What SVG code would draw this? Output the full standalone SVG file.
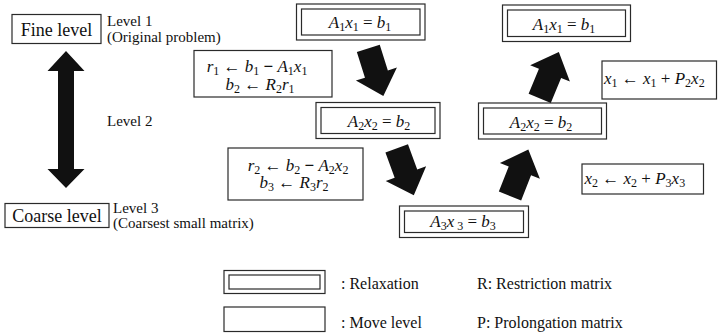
<svg xmlns="http://www.w3.org/2000/svg" xmlns:xlink="http://www.w3.org/1999/xlink" width="718" height="336" viewBox="0 0 718 336">
<style>
  .bx{fill:#fff;stroke:#2a2a2a;stroke-width:1.2}
  .t{font-family:"Liberation Serif","Times New Roman",serif;fill:#111}
  .lab{font-size:18px}
  .lv{font-size:15px}
  .lg{font-size:16px}
  .m{font-family:"Liberation Serif","Times New Roman",serif;font-size:17px;fill:#111}
  .i{font-style:italic}
  .s{font-size:12px}
  .ar{fill:#111}
</style>
<defs>
  <path id="fat" d="M0,-12 H27 V-21.5 L50,0 L27,21.5 V12 H0 Z"/>
</defs>
<rect width="718" height="336" fill="#fff"/>

<g id="fine-level">
  <rect class="bx" x="12" y="14.5" width="89" height="29"/>
  <text class="t lab" x="56.5" y="35.5" text-anchor="middle">Fine level</text>
  <text class="t lv" x="107" y="26">Level 1</text>
  <text class="t lv" x="107" y="42">(Original problem)</text>
</g>
<g id="level2-label">
  <text class="t lv" x="107" y="126">Level 2</text>
</g>
<g id="coarse-level">
  <rect class="bx" x="5" y="203.5" width="104" height="24"/>
  <text class="t lab" x="57" y="222" text-anchor="middle">Coarse level</text>
  <text class="t lv" x="113" y="213">Level 3</text>
  <text class="t lv" x="113" y="228">(Coarsest small matrix)</text>
</g>

<g id="relax-A1-left">
  <rect class="bx" x="296.5" y="4" width="128.5" height="36"/>
  <rect class="bx" x="301.5" y="9" width="118.5" height="26"/>
  <text class="m" x="360" y="28" text-anchor="middle"><tspan class="i">A</tspan><tspan class="s" dy="3">1</tspan><tspan class="i" dy="-3">x</tspan><tspan class="s" dy="3">1</tspan><tspan dy="-3">&#160;=&#160;</tspan><tspan class="i">b</tspan><tspan class="s" dy="3">1</tspan></text>
</g>
<g id="restrict-1">
  <rect class="bx" x="194" y="50.5" width="138" height="46.5"/>
  <text class="m" x="257" y="72" text-anchor="middle"><tspan class="i">r</tspan><tspan class="s" dy="3">1</tspan><tspan dy="-3">&#160;←&#160;</tspan><tspan class="i">b</tspan><tspan class="s" dy="3">1</tspan><tspan dy="-3" font-weight="bold">&#160;−&#160;</tspan><tspan class="i">A</tspan><tspan class="s" dy="3">1</tspan><tspan class="i" dy="-3">x</tspan><tspan class="s" dy="3">1</tspan></text>
  <text class="m" x="260" y="90" text-anchor="middle"><tspan class="i">b</tspan><tspan class="s" dy="3">2</tspan><tspan dy="-3">&#160;←&#160;</tspan><tspan class="i">R</tspan><tspan class="s" dy="3">2</tspan><tspan class="i" dy="-3">r</tspan><tspan class="s" dy="3">1</tspan></text>
</g>
<g id="relax-A2-left">
  <rect class="bx" x="316" y="102.5" width="124" height="36"/>
  <rect class="bx" x="321" y="107.5" width="114" height="26"/>
  <text class="m" x="379" y="127" text-anchor="middle"><tspan class="i">A</tspan><tspan class="s" dy="3">2</tspan><tspan class="i" dy="-3">x</tspan><tspan class="s" dy="3">2</tspan><tspan dy="-3">&#160;=&#160;</tspan><tspan class="i">b</tspan><tspan class="s" dy="3">2</tspan></text>
</g>
<g id="restrict-2">
  <rect class="bx" x="228" y="148" width="135" height="52"/>
  <text class="m" x="298" y="171" text-anchor="middle"><tspan class="i">r</tspan><tspan class="s" dy="3">2</tspan><tspan dy="-3">&#160;←&#160;</tspan><tspan class="i">b</tspan><tspan class="s" dy="3">2</tspan><tspan dy="-3" font-weight="bold">&#160;−&#160;</tspan><tspan class="i">A</tspan><tspan class="s" dy="3">2</tspan><tspan class="i" dy="-3">x</tspan><tspan class="s" dy="3">2</tspan></text>
  <text class="m" x="294" y="188" text-anchor="middle"><tspan class="i">b</tspan><tspan class="s" dy="3">3</tspan><tspan dy="-3">&#160;←&#160;</tspan><tspan class="i">R</tspan><tspan class="s" dy="3">3</tspan><tspan class="i" dy="-3">r</tspan><tspan class="s" dy="3">2</tspan></text>
</g>
<g id="relax-A3">
  <rect class="bx" x="399.5" y="206" width="129" height="31.5"/>
  <rect class="bx" x="404.5" y="211" width="119" height="21.5"/>
  <text class="m" x="463" y="226.5" text-anchor="middle"><tspan class="i">A</tspan><tspan class="s" dy="3">3</tspan><tspan class="i" dy="-3">x</tspan><tspan class="s" dy="3">&#160;3</tspan><tspan dy="-3">&#160;=&#160;</tspan><tspan class="i">b</tspan><tspan class="s" dy="3">3</tspan></text>
</g>
<g id="relax-A2-right">
  <rect class="bx" x="478.5" y="103" width="128" height="36"/>
  <rect class="bx" x="483.5" y="108" width="118" height="26"/>
  <text class="m" x="541" y="127.5" text-anchor="middle"><tspan class="i">A</tspan><tspan class="s" dy="3">2</tspan><tspan class="i" dy="-3">x</tspan><tspan class="s" dy="3">2</tspan><tspan dy="-3">&#160;=&#160;</tspan><tspan class="i">b</tspan><tspan class="s" dy="3">2</tspan></text>
</g>
<g id="relax-A1-right">
  <rect class="bx" x="502.5" y="5" width="128" height="36.5"/>
  <rect class="bx" x="507.5" y="10" width="118" height="26.5"/>
  <text class="m" x="564" y="29.5" text-anchor="middle"><tspan class="i">A</tspan><tspan class="s" dy="3">1</tspan><tspan class="i" dy="-3">x</tspan><tspan class="s" dy="3">1</tspan><tspan dy="-3">&#160;=&#160;</tspan><tspan class="i">b</tspan><tspan class="s" dy="3">1</tspan></text>
</g>
<g id="prolong-2">
  <rect class="bx" x="602" y="61" width="114.5" height="38"/>
  <text class="m" x="604" y="84"><tspan class="i">x</tspan><tspan class="s" dy="3">1</tspan><tspan dy="-3">&#160;←&#160;</tspan><tspan class="i">x</tspan><tspan class="s" dy="3">1</tspan><tspan dy="-3">&#160;+&#160;</tspan><tspan class="i">P</tspan><tspan class="s" dy="3">2</tspan><tspan class="i" dy="-3">x</tspan><tspan class="s" dy="3">2</tspan></text>
</g>
<g id="prolong-3">
  <rect class="bx" x="582" y="164" width="121.5" height="30"/>
  <text class="m" x="584.5" y="184"><tspan class="i">x</tspan><tspan class="s" dy="3">2</tspan><tspan dy="-3">&#160;←&#160;</tspan><tspan class="i">x</tspan><tspan class="s" dy="3">2</tspan><tspan dy="-3">&#160;+&#160;</tspan><tspan class="i">P</tspan><tspan class="s" dy="3">3</tspan><tspan class="i" dy="-3">x</tspan><tspan class="s" dy="3">3</tspan></text>
</g>

<g id="connectors">
  <path class="ar" d="M66,51 L84.5,71 L74,71 L74,169 L84.5,169 L66,188 L47.5,169 L58,169 L58,71 L47.5,71 Z"/>
  <use class="ar" xlink:href="#fat" href="#fat" transform="translate(368.3,48.3) rotate(72.5)"/>
  <use class="ar" xlink:href="#fat" href="#fat" transform="translate(396.7,148.3) rotate(70)"/>
  <use class="ar" xlink:href="#fat" href="#fat" transform="translate(510,196) rotate(-68.5)"/>
  <use class="ar" xlink:href="#fat" href="#fat" transform="translate(539.7,98.3) rotate(-67.5)"/>
</g>

<g id="legend">
  <rect class="bx" x="224" y="270.5" width="101" height="23"/>
  <rect class="bx" x="229" y="275" width="91" height="14"/>
  <text class="t lg" x="341" y="289">: Relaxation</text>
  <rect class="bx" x="224" y="307" width="101" height="24.5"/>
  <text class="t lg" x="341" y="328">: Move level</text>
  <text class="t lg" x="477" y="289">R: Restriction matrix</text>
  <text class="t lg" x="477" y="328">P: Prolongation matrix</text>
</g>
</svg>
